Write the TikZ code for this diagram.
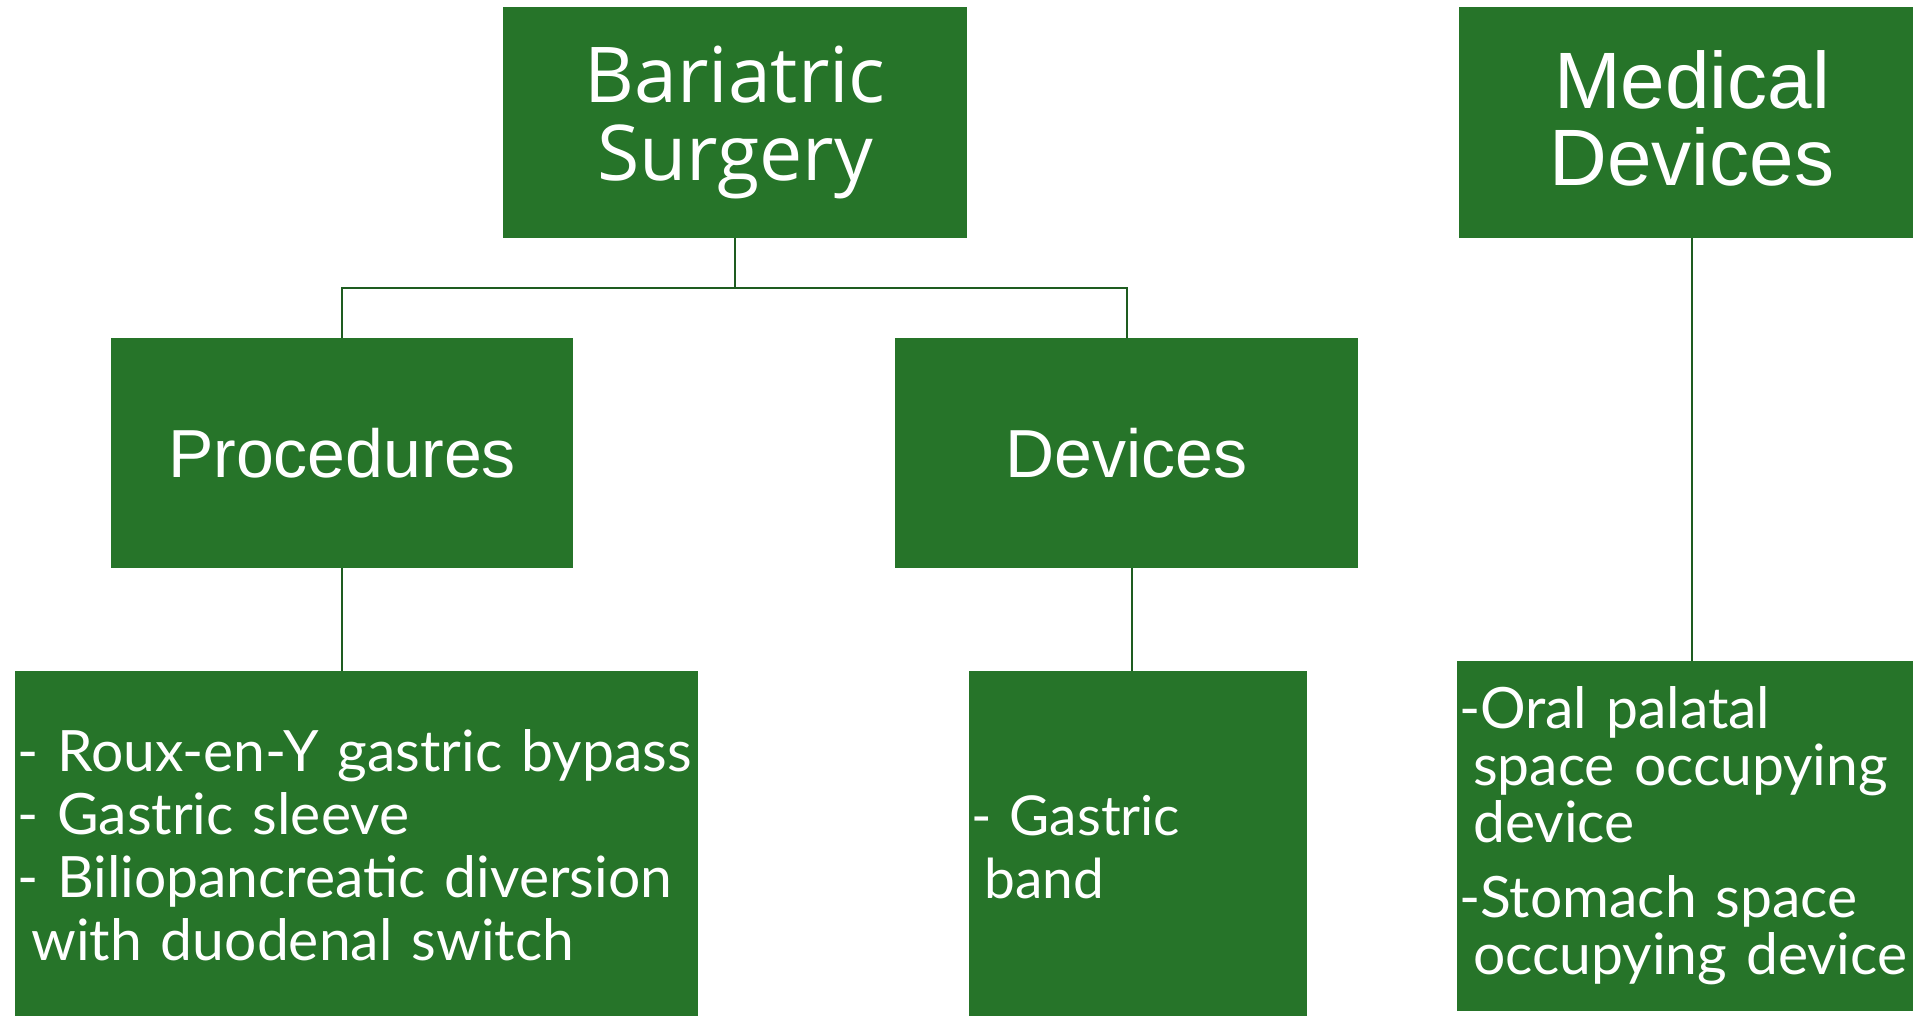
\documentclass[tikz,border=0pt]{standalone}
\usepackage{fontspec}
\setmainfont{Lato}
\newfontfamily\headfont{Open Sans}
\newfontfamily\arialfont{Liberation Sans}
\usetikzlibrary{positioning}

\definecolor{boxgreen}{RGB}{38,116,41}
\definecolor{linegreen}{RGB}{30,92,32}

\begin{document}
\begin{tikzpicture}[
    x=1pt, y=-1pt,
    box/.style={
        fill=boxgreen,
        text=white,
        inner sep=0pt,
        align=center
    },
    listbox/.style={
        box,
        align=left,
        inner xsep=2pt,
        font=\fontsize{57}{63}\selectfont
    },
    link/.style={draw=linegreen, line width=2pt}
]

\useasboundingbox (0,0) rectangle (1913,1016);

% top row
\node[box, minimum width=464pt, minimum height=231pt,
      font=\headfont\fontsize{77}{78}\selectfont] (surgery) at (735,122.5) {Bariatric\\Surgery};
\node[box, minimum width=466pt, minimum height=231pt,
      font=\arialfont\fontsize{80}{77}\selectfont] (medical) at (1692,122.5)
    {Medical\\Devices\vspace{8pt}};

% second row
\node[box, minimum width=462pt, minimum height=230pt,
      font=\arialfont\fontsize{68}{70}\selectfont] (proc) at (342,453) {Procedures};
\node[box, minimum width=463pt, minimum height=230pt,
      font=\arialfont\fontsize{68}{70}\selectfont] (dev) at (1126.5,453) {Devices};

% lists (bottom edges run off the page)
\node[listbox, text width=679pt, minimum height=349pt] (procitems) at (356.5,845.5)
    {- Roux-en-Y gastric bypass\\- Gastric sleeve\\- Biliopancreatic diversion\\\hspace*{0.25em}with duodenal switch};
\node[listbox, text width=334pt, minimum height=353pt,
      font=\fontsize{55}{63}\selectfont] (devitems) at (1138,847.5)
    {- Gastric\\\hspace*{0.25em}band};
\node[listbox, text width=464pt, minimum height=350pt,
      font=\fontsize{57}{57}\selectfont] (meditems) at (1691,836)
    {-Oral palatal\\\hspace*{0.25em}space occupying\\\hspace*{0.25em}device\\[18pt]-Stomach space\\\hspace*{0.25em}occupying device};

% connectors
\draw[link] (surgery.south) -- ([yshift=-50pt]surgery.south) -| (proc.north);
\draw[link] ([yshift=-50pt]surgery.south) -| (dev.north);
\draw[link] (proc.south) -- (proc.south |- procitems.north);
\draw[link] ([xshift=5pt]dev.south) -- ([xshift=5pt]dev.south |- devitems.north);
\draw[link] (medical.south) -- (medical.south |- meditems.north);

\end{tikzpicture}
\end{document}
